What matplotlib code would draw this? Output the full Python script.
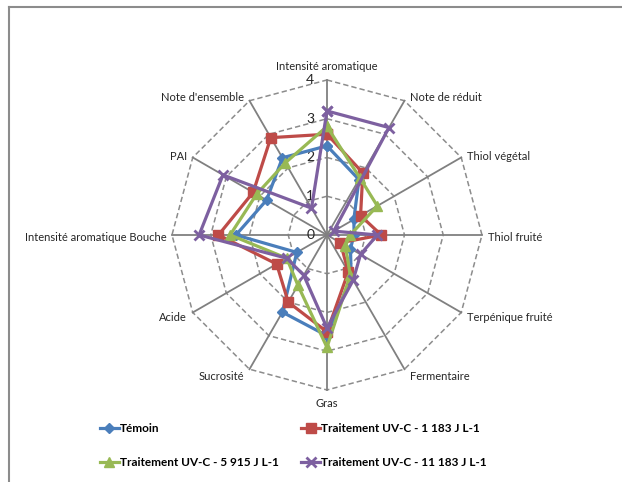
import numpy as np
import matplotlib.pyplot as plt
from matplotlib.lines import Line2D

categories = ["Intensité aromatique", "Note de réduit", "Thiol végétal", "Thiol fruité",
              "Terpénique fruité", "Fermentaire", "Gras", "Sucrosité", "Acide",
              "Intensité aromatique Bouche", "PAI", "Note d'ensemble"]
temoin = [2.3, 1.65, 0.8, 0.7, 0.7, 1.25, 2.6, 2.3, 0.9, 2.35, 1.8, 2.3]
uvc_1183 = [2.6, 1.85, 1.0, 1.4, 0.4, 1.1, 2.5, 2.0, 1.5, 2.8, 2.2, 2.9]
uvc_5915 = [2.8, 1.7, 1.5, 0.6, 0.55, 1.2, 2.9, 1.5, 1.2, 2.5, 2.1, 2.15]
uvc_11183 = [3.2, 3.2, 0.2, 1.3, 1.0, 1.35, 2.4, 1.2, 1.2, 3.3, 3.1, 0.8]
levels = [0, 1, 2, 3, 4]

plt.rcParams['font.family'] = ['Lato', 'DejaVu Sans']

fig = plt.figure(figsize=(6.22, 4.82), dpi=100)
ax = fig.add_axes([0.2765, 0.1909, 0.4984, 0.6432], projection='polar')
ax.set_theta_offset(np.pi / 2)
ax.set_theta_direction(-1)
ax.set_ylim(0, levels[-1])
ax.grid(False)
ax.spines['polar'].set_visible(False)
ax.set_xticks([])
ax.set_yticks([])
ax.patch.set_visible(False)

n = len(categories)
angles = np.arange(n) * 2 * np.pi / n
closed = np.append(angles, angles[0])

# grille en polygones + rayons
for lv in levels[1:]:
    ax.plot(closed, [lv] * (n + 1), color='#8c8c8c', lw=1.1, ls=(0, (3.5, 2)), zorder=1, clip_on=False)
for a in angles:
    ax.plot([a, a], [0, levels[-1]], color='#808080', lw=1.3, zorder=1, clip_on=False)

for lv in levels:
    ax.annotate(str(lv), (0, lv), xytext=(-12, 0), textcoords='offset points',
                ha='center', va='center', fontsize=10, color='#262626')

for a, lab in zip(angles, categories):
    t = np.pi / 2 - a
    c, s = np.cos(t), np.sin(t)
    if abs(c) < 1e-6:
        ha = 'center'
        va = 'bottom' if s > 0 else 'top'
        off = (0, 6 * np.sign(s))
    else:
        ha = 'left' if c > 0 else 'right'
        va = 'center'
        off = (4 * np.sign(c), 4.5 * s - 1.5)
    ax.annotate(lab, (a, levels[-1]), xytext=off, textcoords='offset points',
                ha=ha, va=va, fontsize=8, color='#262626')

series = [
    (temoin, 'Témoin', '#4A7EBB', 'D', 5.5, 1),
    (uvc_1183, 'Traitement UV-C - 1 183 J L-1', '#BE4B48', 's', 6.5, 1),
    (uvc_5915, 'Traitement UV-C - 5 915 J L-1', '#98B954', '^', 7.5, 1),
    (uvc_11183, 'Traitement UV-C - 11 183 J L-1', '#7D60A0', 'x', 7, 2),
]
handles = []
for vals, lab, col, mk, ms, mew in series:
    v = np.append(vals, vals[0])
    h, = ax.plot(closed, v, color=col, lw=2.3, marker=mk, ms=ms, mew=mew,
                 label=lab, zorder=3, clip_on=False)
    handles.append(h)

order = [0, 2, 1, 3]
fig.legend([handles[i] for i in order], [handles[i].get_label() for i in order],
           loc='upper left', bbox_to_anchor=(100 / 622, 1 - 423 / 482), ncol=2,
           frameon=False, prop={'weight': 'bold', 'size': 8.5},
           handlelength=1.6, handletextpad=0.1, columnspacing=1.9, labelspacing=1.95,
           borderaxespad=0, borderpad=0)

# cadre du graphique
fig.add_artist(Line2D([9 / 622, 9 / 622], [0, 1 - 7 / 482], transform=fig.transFigure,
                      color='#8c8c8c', lw=1.5))
fig.add_artist(Line2D([9 / 622, 1], [1 - 7 / 482, 1 - 7 / 482], transform=fig.transFigure,
                      color='#8c8c8c', lw=1.5))

fig.savefig('out.png', dpi=100)
